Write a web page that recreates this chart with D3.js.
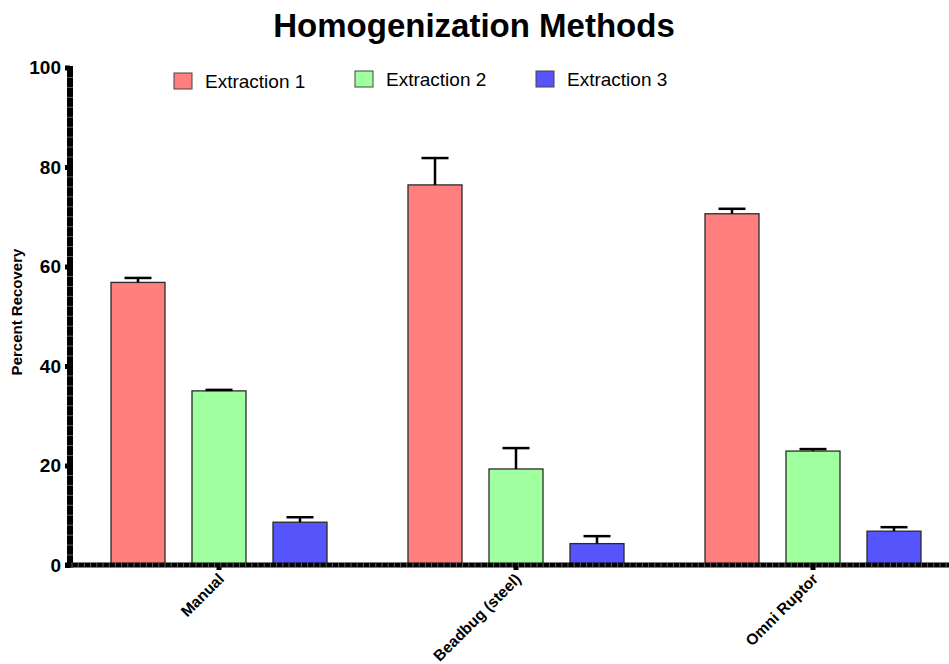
<!DOCTYPE html>
<html>
<head>
<meta charset="utf-8">
<script src="https://cdn.jsdelivr.net/npm/d3@7/dist/d3.min.js"></script>
<style>
  html, body { margin: 0; padding: 0; background: #fff; }
  svg { display: block; font-family: "Liberation Sans", Arial, sans-serif; }
</style>
</head>
<body>
<svg id="chart" width="949" height="664"></svg>
<script>
// Homogenization methods: percent recovery per extraction (mean and error)
const methods = ["Manual", "Beadbug (steel)", "Omni Ruptor"];
const extractions = ["Extraction 1", "Extraction 2", "Extraction 3"];
const extraction1 = [56.8, 76.4, 70.6];
const extraction1Err = [0.9, 5.4, 1.0];
const extraction2 = [35.0, 19.3, 22.9];
const extraction2Err = [0.2, 4.2, 0.4];
const extraction3 = [8.6, 4.3, 6.8];
const extraction3Err = [1.0, 1.5, 0.8];
const yTicks = [0, 20, 40, 60, 80, 100];
const colors = ["#ff7f7f", "#a0ff9f", "#5555fb"];

const means = [extraction1, extraction2, extraction3];
const errs = [extraction1Err, extraction2Err, extraction3Err];

const svg = d3.select("#chart");

const y = d3.scaleLinear().domain([0, 100]).range([565, 67.5]);
const x0 = d3.scaleBand().domain(methods).range([70.5, 961.5]);
const x1 = d3.scaleBand().domain(extractions)
  .range([40.5, 256.5]).paddingInner(1 / 3).paddingOuter(0);

const rows = methods.flatMap((m, i) => extractions.map((e, j) => ({
  method: m, series: e, j, value: means[j][i], err: errs[j][i]
})));

// Title
svg.append("text")
  .attr("x", 474).attr("y", 37)
  .attr("text-anchor", "middle")
  .attr("font-size", 33).attr("font-weight", "bold")
  .text("Homogenization Methods");

// Bars
svg.append("g").selectAll("rect").data(rows).join("rect")
  .attr("x", d => x0(d.method) + x1(d.series))
  .attr("y", d => y(d.value))
  .attr("width", x1.bandwidth())
  .attr("height", d => y(0) - y(d.value))
  .attr("fill", d => colors[d.j])
  .attr("stroke", "#2a2a2a")
  .attr("stroke-width", 1.3);

// Error bars (upper)
const eb = svg.append("g").attr("stroke", "#000").attr("stroke-width", 2.5);
rows.forEach(d => {
  const cx = x0(d.method) + x1(d.series) + x1.bandwidth() / 2;
  const capHalf = x1.bandwidth() / 4;
  eb.append("line").attr("x1", cx).attr("x2", cx)
    .attr("y1", y(d.value)).attr("y2", y(d.value + d.err));
  eb.append("line").attr("x1", cx - capHalf).attr("x2", cx + capHalf)
    .attr("y1", y(d.value + d.err)).attr("y2", y(d.value + d.err));
});

// Y axis: thick spine with minor ticks every 2 units
const yAxis = svg.append("g").attr("transform", "translate(70,0)")
  .call(d3.axisLeft(y).tickValues(yTicks).tickSize(5).tickSizeOuter(0).tickPadding(4));
yAxis.select(".domain").attr("stroke", "#000").attr("stroke-width", 6)
  .attr("d", `M0,${y(100) - 1.5}V${y(0) + 2.5}`);
yAxis.selectAll(".tick line").attr("stroke", "#000").attr("stroke-width", 5);
yAxis.selectAll(".tick text")
  .attr("font-size", 19).attr("font-weight", "bold")
  .attr("fill", "#000")
  .attr("font-family", "Liberation Sans, Arial, sans-serif");

const yMinor = d3.range(2, 100, 2).filter(v => v % 20 !== 0);
svg.append("g").selectAll("line").data(yMinor).join("line")
  .attr("x1", 67).attr("x2", 73)
  .attr("y1", d => y(d)).attr("y2", d => y(d))
  .attr("stroke", "#777").attr("stroke-width", 0.8);

// X axis: thick baseline with category ticks
const xAxis = svg.append("g").attr("transform", `translate(0,${y(0)})`)
  .call(d3.axisBottom(x0).tickSize(5).tickSizeOuter(0).tickFormat(""));
xAxis.select(".domain").attr("stroke", "#000").attr("stroke-width", 5)
  .attr("d", "M65,0H949");
xAxis.selectAll(".tick line").attr("stroke", "#000").attr("stroke-width", 5);

const xMinor = d3.range(72, 949, 6.2);
svg.append("g").selectAll("line").data(xMinor).join("line")
  .attr("x1", d => d).attr("x2", d => d)
  .attr("y1", y(0) - 2.5).attr("y2", y(0) + 2.5)
  .attr("stroke", "#777").attr("stroke-width", 0.8);

// Rotated category labels
svg.append("g").selectAll("text").data(methods).join("text")
  .attr("transform", d => `translate(${x0(d) + x0.bandwidth() / 2 + 6},${y(0) + 15}) rotate(-45)`)
  .attr("text-anchor", "end")
  .attr("font-size", 15.5).attr("font-weight", "bold")
  .text(d => d);

// Y axis title
svg.append("text")
  .attr("transform", "translate(22,312) rotate(-90)")
  .attr("text-anchor", "middle")
  .attr("font-size", 15).attr("font-weight", "bold")
  .text("Percent Recovery");

// Legend
const legendPos = [{ x: 174, y: 73, ty: 88 }, { x: 355, y: 71, ty: 86 }, { x: 536, y: 71, ty: 86 }];
const legend = svg.append("g").selectAll("g").data(extractions).join("g");
legend.append("rect")
  .attr("x", (d, i) => legendPos[i].x).attr("y", (d, i) => legendPos[i].y)
  .attr("width", 18).attr("height", 16)
  .attr("fill", (d, i) => colors[i])
  .attr("stroke", "#444").attr("stroke-width", 1);
legend.append("text")
  .attr("x", (d, i) => legendPos[i].x + 31).attr("y", (d, i) => legendPos[i].ty)
  .attr("font-size", 19)
  .text(d => d);
</script>
</body>
</html>
